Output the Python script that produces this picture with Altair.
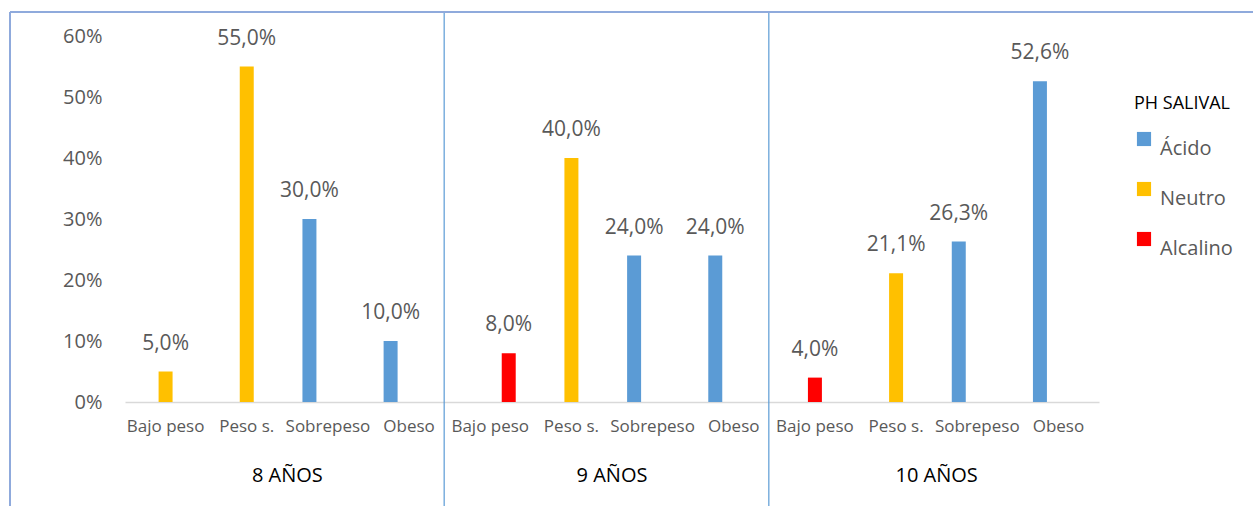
import altair as alt
import pandas as pd

groups = ["8 AÑOS", "9 AÑOS", "10 AÑOS"]
categories = ["Bajo peso", "Peso s.", "Sobrepeso", "Obeso"]
values_8 = [0.05, 0.55, 0.30, 0.10]
values_9 = [0.08, 0.40, 0.24, 0.24]
values_10 = [0.04, 0.211, 0.263, 0.526]
ph_8 = ["Neutro", "Neutro", "Ácido", "Ácido"]
ph_9 = ["Alcalino", "Neutro", "Ácido", "Ácido"]
ph_10 = ["Alcalino", "Neutro", "Ácido", "Ácido"]
# series column each value sits in (the 10-year red bar sits in the middle column)
serie_8 = ["Neutro", "Neutro", "Ácido", "Ácido"]
serie_9 = ["Alcalino", "Neutro", "Ácido", "Ácido"]
serie_10 = ["Neutro", "Neutro", "Ácido", "Ácido"]
ph_levels = ["Ácido", "Neutro", "Alcalino"]
ph_colors = ["#5B9BD5", "#FFC000", "#FF0000"]

rows = []
for g, vals, phs, ser in zip(groups, [values_8, values_9, values_10],
                             [ph_8, ph_9, ph_10], [serie_8, serie_9, serie_10]):
    for c, v, p, s in zip(categories, vals, phs, ser):
        rows.append({"grupo": g, "cat": c, "key": g + "|" + c,
                     "valor": v, "ph": p, "serie": s})
df = pd.DataFrame(rows)
keys = list(df["key"])

FONT = "Open Sans"
GRAY = "#595959"
FRAME = "#8FAADC"

x_enc = alt.X("key:N", sort=keys,
              scale=alt.Scale(domain=keys, paddingInner=0, paddingOuter=0),
              axis=alt.Axis(title=None, labelExpr="split(datum.label, '|')[1]",
                            labelAngle=0, ticks=False, domainColor="#D9D9D9",
                            domainWidth=1.5, labelFont=FONT, labelFontSize=17,
                            labelColor=GRAY, labelPadding=16))
xoff_enc = alt.XOffset("serie:N",
                       scale=alt.Scale(domain=ph_levels, paddingInner=0.243,
                                       paddingOuter=0.8175))
y_enc = alt.Y("valor:Q",
              scale=alt.Scale(domain=[0, 0.6], nice=False),
              axis=alt.Axis(title=None, format=".0%", values=[0, 0.1, 0.2, 0.3, 0.4, 0.5, 0.6],
                            grid=False, domain=False, ticks=False,
                            labelFont=FONT, labelFontSize=20, labelColor=GRAY,
                            labelPadding=23))

base = alt.Chart(df)
bars = base.mark_bar().encode(
    x=x_enc, xOffset=xoff_enc, y=y_enc,
    color=alt.Color("ph:N", scale=alt.Scale(domain=ph_levels, range=ph_colors),
                    legend=alt.Legend(title="PH SALIVAL", orient="none",
                                      legendX=1009, legendY=59,
                                      symbolType="square", symbolSize=200,
                                      symbolStrokeWidth=0,
                                      titleFont=FONT, titleFontSize=18,
                                      titleFontWeight="normal", titleColor="#000000",
                                      titlePadding=16,
                                      labelFont=FONT, labelFontSize=20,
                                      labelColor=GRAY, labelBaseline="top",
                                      labelOffset=6, rowPadding=20))
)
labels = base.transform_calculate(
    txt="replace(format(datum.valor, '.1%'), '.', ',')"
).mark_text(font=FONT, fontSize=21, color=GRAY, baseline="middle", dy=-28).encode(
    x=x_enc, xOffset=xoff_enc, y=y_enc, text="txt:N")

inner = alt.layer(bars, labels)

sep_df = pd.DataFrame({"grupo": groups[:2]})
separators = alt.Chart(sep_df).mark_rule(color="#5B9BD5", strokeWidth=1.2, xOffset=-5.5).encode(
    x=alt.X("grupo:N", bandPosition=1,
            scale=alt.Scale(domain=groups, paddingInner=0, paddingOuter=0),
            axis=alt.Axis(title=None, orient="bottom", domain=False, ticks=False,
                          labelAngle=0, labelFont=FONT, labelFontSize=20,
                          labelColor="#000000", labelPadding=63)),
    y=alt.value(-24), y2=alt.value(470))

frame_df = pd.DataFrame({"k": [0]})
top_line = alt.Chart(frame_df).mark_rule(color=FRAME, strokeWidth=2).encode(
    x=alt.value(-115), x2=alt.value(1128), y=alt.value(-24))
left_line = alt.Chart(frame_df).mark_rule(color=FRAME, strokeWidth=2).encode(
    x=alt.value(-115), y=alt.value(-24), y2=alt.value(470))

chart = alt.layer(inner, separators, top_line, left_line).resolve_scale(
    x="independent"
).properties(
    width=974, height=366,
    padding={"left": 125, "top": 36, "right": 154, "bottom": 104},
    autosize=alt.AutoSizeParams(type="none"),
    background="white"
).configure_view(stroke=None)

chart.save("out.html", embed_options={"renderer": "svg", "actions": False})
